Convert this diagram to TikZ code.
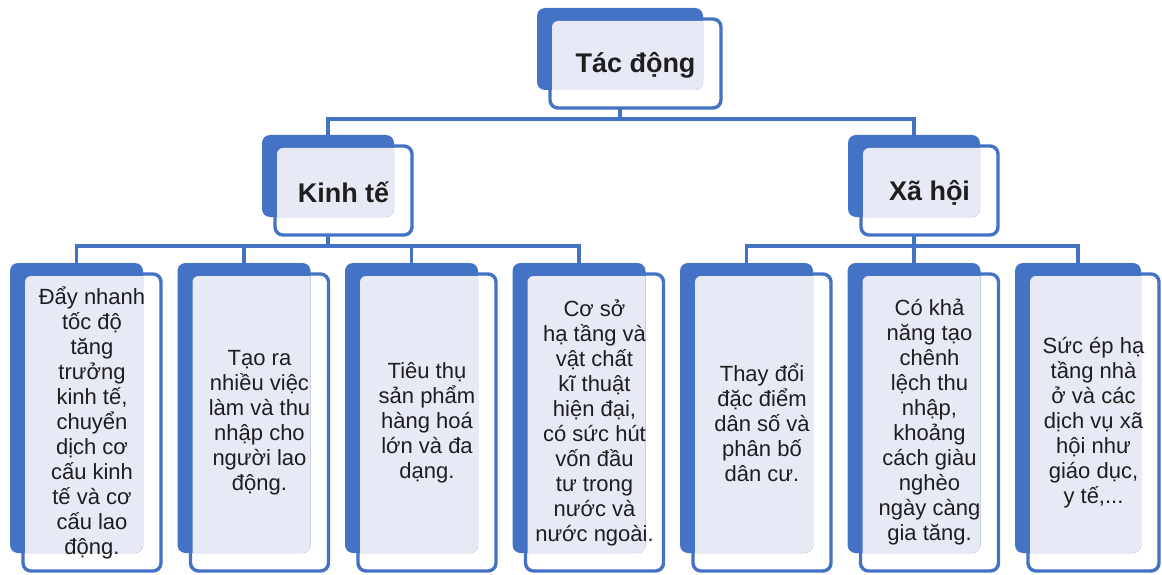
\documentclass[tikz,border=0pt]{standalone}
\usepackage{fontspec}
\setmainfont{Liberation Sans}
\definecolor{bblue}{HTML}{4472C4}
\definecolor{lav}{HTML}{E7E9F5}
\definecolor{ink}{HTML}{1E1E1E}
\tikzset{
  frontbox/.style={draw=bblue, line width=3.4pt, fill=white, rounded corners=8pt, inner sep=0pt, outer sep=0pt},
  backbox/.style={fill=bblue, rounded corners=8pt, inner sep=0pt, outer sep=0pt},
  conn/.style={draw=bblue, line width=3.6pt},
  titletext/.style={font=\fontsize{27}{30}\selectfont\bfseries, text=ink, align=center, yshift=-2pt},
  bodytext/.style={font=\fontsize{22}{25}\selectfont, text=ink, align=center},
}
% #1 name, #2 bx1, #3 by1, #4 bx2, #5 by2, #6 style, #7 text
\newcommand\mkbox[7]{%
  \node[frontbox, minimum width={#4-#2+5}, minimum height={#5-#3+7}] (#1F) at ({(#2+#4)/2+15.5},{(#3+#5)/2+14.5}) {};
  \node[backbox, minimum width={#4-#2}, minimum height={#5-#3}] (#1B) at ({(#2+#4)/2},{(#3+#5)/2}) {};
  \begin{scope}
    \clip[rounded corners=8pt] (#1B.north west) rectangle (#1B.south east);
    \fill[lav, rounded corners=6pt] ([shift={(2,2)}]#1F.north west) rectangle ([shift={(-2,-2)}]#1F.south east);
  \end{scope}
  \node[#6] (#1) at (#1F.center) {#7};
}
\begin{document}
\begin{tikzpicture}[x=1pt,y=-1pt]
\useasboundingbox (0,0) rectangle (1162,575);
\coordinate (bar0) at (0,119);
\coordinate (bar1) at (0,246);

\mkbox{top}{537}{8}{703}{90}{titletext}{Tác động}
\mkbox{kinh}{262}{135}{394}{217}{titletext}{Kinh tế}
\mkbox{xah}{848}{135}{980}{217}{titletext}{Xã hội}

\mkbox{ca}{10}{263}{143}{553}{bodytext}{Đẩy nhanh\\tốc độ\\tăng\\trưởng\\kinh tế,\\chuyển\\dịch cơ\\cấu kinh\\tế và cơ\\cấu lao\\động.}
\mkbox{cb}{177.5}{263}{310.5}{553}{bodytext}{Tạo ra\\nhiều việc\\làm và thu\\nhập cho\\người lao\\động.}
\mkbox{cc}{345}{263}{478}{553}{bodytext}{Tiêu thụ\\sản phẩm\\hàng hoá\\lớn và đa\\dạng.}
\mkbox{cd}{512.5}{263}{645.5}{553}{bodytext}{Cơ sở\\hạ tầng và\\vật chất\\kĩ thuật\\hiện đại,\\có sức hút\\vốn đầu\\tư trong\\nước và\\nước ngoài.}
\mkbox{ce}{680}{263}{813}{553}{bodytext}{Thay đổi\\đặc điểm\\dân số và\\phân bố\\dân cư.}
\mkbox{cf}{847.5}{263}{980.5}{553}{bodytext}{Có khả\\năng tạo\\chênh\\lệch thu\\nhập,\\khoảng\\cách giàu\\nghèo\\ngày càng\\gia tăng.}
\mkbox{cg}{1015}{263}{1141}{553}{bodytext}{Sức ép hạ\\tầng nhà\\ở và các\\dịch vụ xã\\hội như\\giáo dục,\\y tế,...}

% connectors
\draw[conn] (topB.south |- topF.south) -- (topB.south |- bar0) -| (kinhB.north);
\draw[conn] (topB.south |- bar0) -| (xahB.north);

\draw[conn] (kinhB.south |- kinhF.south) -- (kinhB.south |- bar1) -| (caB.north);
\draw[conn] (kinhB.south |- bar1) -| (cbB.north);
\draw[conn] (kinhB.south |- bar1) -| (ccB.north);
\draw[conn] (kinhB.south |- bar1) -| (cdB.north);

\draw[conn] (xahB.south |- xahF.south) -- (xahB.south |- bar1) -| (ceB.north);
\draw[conn] (xahB.south |- bar1) -| (cfB.north);
\draw[conn] (xahB.south |- bar1) -| (cgB.north);
\end{tikzpicture}
\end{document}
